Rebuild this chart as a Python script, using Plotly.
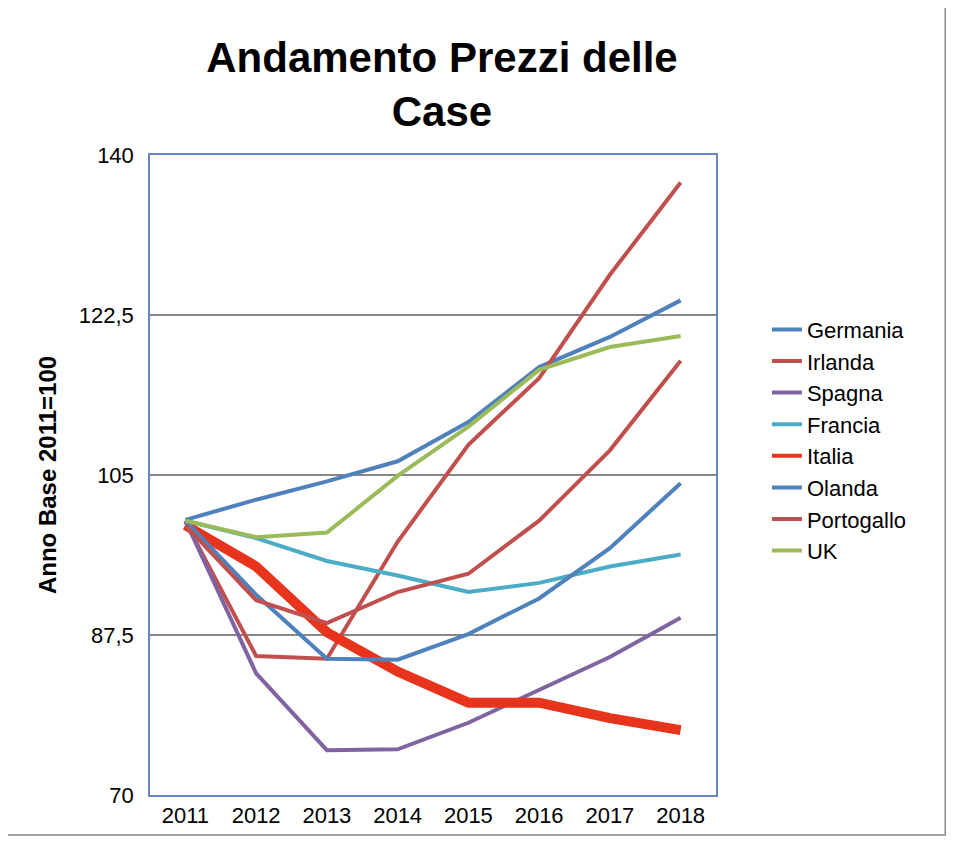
import plotly.graph_objects as go

anni = ["2011", "2012", "2013", "2014", "2015", "2016", "2017", "2018"]
germania = [100.1, 102.3, 104.3, 106.5, 110.8, 116.8, 120.1, 124.1]
irlanda = [99.9, 85.2, 84.9, 97.7, 108.3, 115.6, 126.9, 137.0]
spagna = [100.0, 83.3, 74.9, 75.0, 77.9, 81.5, 85.1, 89.4]
francia = [100.0, 98.1, 95.6, 94.0, 92.2, 93.2, 95.0, 96.3]
italia = [99.5, 95.0, 87.8, 83.5, 80.1, 80.1, 78.4, 77.1]
olanda = [100.0, 91.9, 84.9, 84.8, 87.6, 91.5, 97.0, 104.1]
portogallo = [99.5, 91.3, 88.8, 92.2, 94.2, 100.0, 107.7, 117.5]
uk = [100.0, 98.2, 98.7, 104.9, 110.3, 116.5, 119.0, 120.2]

serie = [
    ("Germania", germania, "#4F81BD", 4),
    ("Irlanda", irlanda, "#C0504D", 4),
    ("Spagna", spagna, "#8064A2", 4),
    ("Francia", francia, "#4BACC6", 4),
    ("Italia", italia, "#E8341C", 10),
    ("Olanda", olanda, "#4F81BD", 4),
    ("Portogallo", portogallo, "#C0504D", 4),
    ("UK", uk, "#9BBB59", 4),
]

fig = go.Figure()
for nome, vals, col, w in serie:
    if w > 4:
        # thick line in plot, thin line in legend
        fig.add_trace(go.Scatter(x=anni, y=vals, name=nome, mode="lines",
                                 showlegend=False, legendgroup=nome,
                                 line=dict(color=col, width=w)))
        fig.add_trace(go.Scatter(x=anni, y=[None] * len(anni), name=nome, mode="lines",
                                 legendgroup=nome, line=dict(color=col, width=4)))
    else:
        fig.add_trace(go.Scatter(x=anni, y=vals, name=nome, mode="lines",
                                 line=dict(color=col, width=w)))

fig.update_layout(
    width=958, height=848,
    paper_bgcolor="white", plot_bgcolor="white",
    font=dict(family="Liberation Sans, Arial", size=22, color="black"),
    separators=",.",
    title=dict(text="<b>Andamento Prezzi delle<br>Case</b>", x=0.453, xanchor="center",
               y=0.925, yanchor="middle", font=dict(size=42)),
    margin=dict(l=142, r=250, t=147, b=61),
    legend=dict(x=1.09, y=0.76, yanchor="top", font=dict(size=22),
                tracegroupgap=0, itemwidth=30),
    shapes=[dict(type="rect", xref="paper", yref="paper", x0=-0.26, x1=1.405,
                 y0=-0.0625, y1=1.2375, line=dict(color="#888", width=1.5))],
)
fig.update_xaxes(range=[-0.5, 7.5], showline=True, mirror=True, linecolor="#6C84C4",
                 linewidth=1.5, showgrid=False, ticks="", tickfont=dict(size=22))
fig.update_yaxes(range=[70, 140], tickvals=[70, 87.5, 105, 122.5, 140],
                 showline=True, mirror=True, linecolor="#6C84C4", linewidth=1.5,
                 gridcolor="#888", gridwidth=1.5, ticks="", ticklabelstandoff=10,
                 title=dict(text="<b>Anno Base 2011=100</b>", font=dict(size=24)),
                 tickfont=dict(size=22))
fig.write_html("out.html")
